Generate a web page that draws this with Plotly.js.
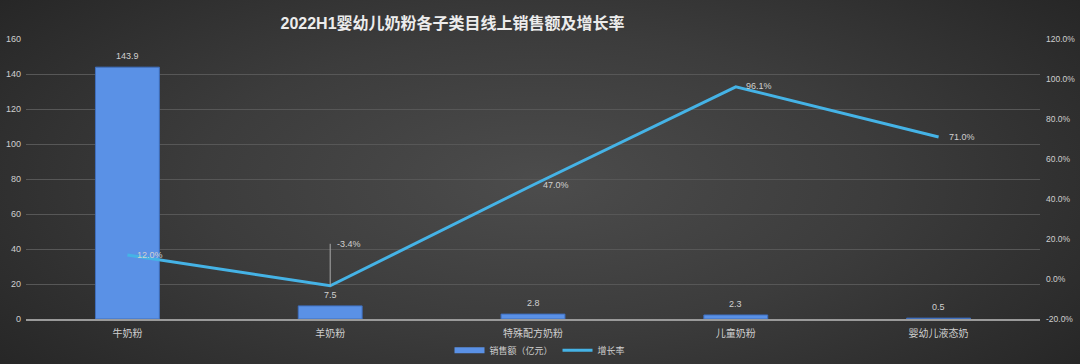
<!DOCTYPE html>
<html>
<head>
<meta charset="utf-8">
<script src="https://cdn.plot.ly/plotly-3.0.1.min.js"></script>
<style>
  html, body { margin: 0; padding: 0; }
  body {
    width: 1080px; height: 364px; overflow: hidden;
    background: radial-gradient(ellipse 70% 90% at 50% 50%, #4c4c4c 0%, #3c3c3c 45%, #222222 100%);
  }
  #chart { width: 1080px; height: 364px; }
</style>
</head>
<body>
<div id="chart"></div>
<script>
const categories = ['牛奶粉', '羊奶粉', '特殊配方奶粉', '儿童奶粉', '婴幼儿液态奶'];
const sales = [143.9, 7.5, 2.8, 2.3, 0.5];
const growth = [12.0, -3.4, 47.0, 96.1, 71.0];
const leftTicks = [0, 20, 40, 60, 80, 100, 120, 140, 160];
const rightTicks = [-20, 0, 20, 40, 60, 80, 100, 120];

// label offsets (pixels) for growth labels
const growthLabelOffsets = [
  {xshift: 8, yshift: 0, arrow: false},
  {xshift: 0, yshift: 0, arrow: true, ay: -42},
  {xshift: 8, yshift: 0, arrow: false},
  {xshift: 8, yshift: 1, arrow: false},
  {xshift: 8, yshift: 0, arrow: false}
];

const font = '"Liberation Sans", Arial, "Noto Sans CJK SC", sans-serif';
const cjk = '"Liberation Sans", "Noto Sans CJK SC", sans-serif';
const barColor = '#5a91e6';
const lineColor = '#45b3e6';
const labelColor = '#d0d0d0';

const barTrace = {
  type: 'bar',
  x: categories,
  y: sales,
  name: '销售额（亿元）',
  showlegend: false,
  width: 0.315,
  marker: {
    color: barColor,
    line: {color: '#3f6fbf', width: 1}
  },
  hoverinfo: 'skip'
};

// legend-only entry giving the flat bar swatch
const barLegend = {
  type: 'scatter', mode: 'lines',
  x: [null], y: [null],
  name: '销售额（亿元）',
  line: {color: barColor, width: 6},
  hoverinfo: 'skip'
};

const lineTrace = {
  type: 'scatter',
  mode: 'lines',
  x: categories,
  y: growth,
  yaxis: 'y2',
  name: '增长率',
  line: {color: lineColor, width: 3},
  hoverinfo: 'skip'
};

const barLabels = sales.map((v, i) => ({
  x: categories[i], y: v, xref: 'x', yref: 'y',
  text: v.toFixed(1),
  font: {color: labelColor, size: 9, family: font},
  xanchor: 'center', yanchor: 'bottom', yshift: 4,
  showarrow: false
}));

const lineLabels = growth.map((g, i) => {
  const o = growthLabelOffsets[i];
  const a = {
    x: categories[i], y: g, xref: 'x', yref: 'y2',
    text: g.toFixed(1) + '%',
    font: {color: labelColor, size: 9, family: font},
    xanchor: 'left', yanchor: 'middle',
    xshift: o.xshift, yshift: o.yshift,
    showarrow: false
  };
  if (o.arrow) {
    a.text = '&nbsp;&nbsp;' + a.text;
    a.showarrow = true;
    a.arrowhead = 0;
    a.arrowwidth = 1;
    a.arrowcolor = '#aaaaaa';
    a.ax = 0; a.ay = o.ay;
  }
  return a;
});

const layout = {
  width: 1080, height: 364,
  paper_bgcolor: 'rgba(0,0,0,0)',
  plot_bgcolor: 'rgba(0,0,0,0)',
  margin: {l: 26, r: 40, t: 39, b: 45},
  title: {
    text: '<b>2022H1婴幼儿奶粉各子类目线上销售额及增长率</b>',
    x: 0.419, xanchor: 'center', y: 0.935, yanchor: 'middle',
    font: {color: '#ececec', size: 16, family: cjk}
  },
  showlegend: true,
  legend: {
    orientation: 'h',
    xref: 'container', yref: 'container',
    x: 0.5, xanchor: 'center', y: 0.038, yanchor: 'middle',
    font: {color: '#cfcfcf', size: 9, family: cjk},
    bgcolor: 'rgba(0,0,0,0)',
    itemwidth: 30, tracegroupgap: 0
  },
  xaxis: {
    type: 'category',
    showgrid: false,
    showline: true, linecolor: '#9a9a9a', linewidth: 1.5,
    ticks: '',
    tickfont: {color: '#cfcfcf', size: 10, family: cjk},
    ticklabelstandoff: 4,
    zeroline: false,
    fixedrange: true
  },
  yaxis: {
    range: [0, 160],
    tickvals: leftTicks,
    ticktext: leftTicks.map(String),
    showgrid: true, gridcolor: '#575757', gridwidth: 1,
    zeroline: false,
    showline: false,
    tickfont: {color: '#cfcfcf', size: 9, family: font},
    ticklabelstandoff: 4,
    fixedrange: true
  },
  yaxis2: {
    range: [-20, 120],
    overlaying: 'y', side: 'right',
    tickvals: rightTicks,
    ticktext: rightTicks.map(v => v.toFixed(1) + '%'),
    showgrid: false, zeroline: false, showline: false,
    tickfont: {color: '#cfcfcf', size: 8.5, family: font},
    ticklabelstandoff: 5,
    fixedrange: true
  },
  annotations: barLabels.concat(lineLabels)
};

Plotly.newPlot('chart', [barTrace, barLegend, lineTrace], layout, {displayModeBar: false, staticPlot: true});
</script>
</body>
</html>
